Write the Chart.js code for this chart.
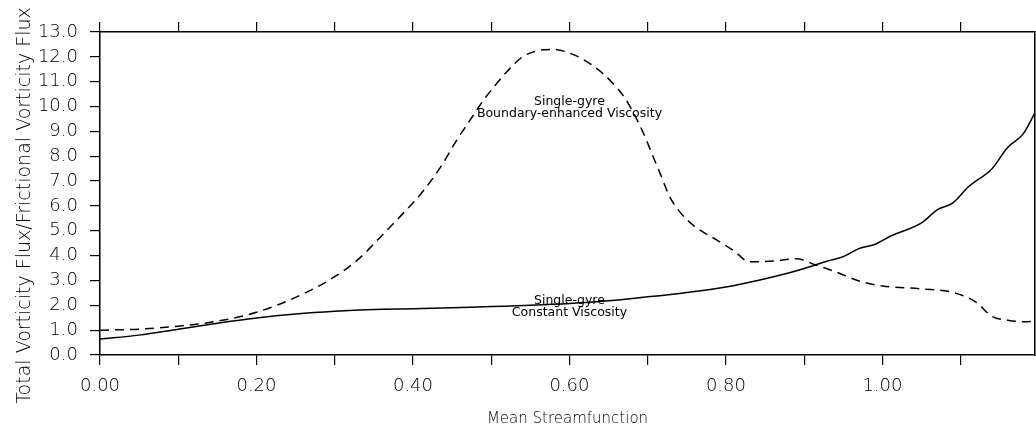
<!DOCTYPE html>
<html>
<head>
<meta charset="utf-8">
<script src="https://cdn.jsdelivr.net/npm/chart.js@4.4.1/dist/chart.umd.min.js"></script>
<style>
    html, body { margin: 0; padding: 0; background: #fff; }
    #fluxChart { display: block; }
</style>
</head>
<body>
<canvas id="fluxChart" width="1036" height="434"></canvas>
<script>
// Single-gyre, constant viscosity (solid)
const constantX = [0, 0.05, 0.10, 0.15, 0.20, 0.25, 0.30, 0.35, 0.40, 0.45, 0.50, 0.55, 0.60, 0.65, 0.70, 0.75, 0.80, 0.85, 0.88, 0.90, 0.93, 0.95, 0.97, 0.99, 1.01, 1.05, 1.07, 1.09, 1.11, 1.14, 1.16, 1.18, 1.195];
const constantY = [0.64, 0.80, 1.04, 1.28, 1.49, 1.65, 1.76, 1.83, 1.86, 1.90, 1.95, 2.00, 2.07, 2.18, 2.34, 2.52, 2.74, 3.07, 3.30, 3.48, 3.78, 3.96, 4.28, 4.45, 4.78, 5.32, 5.84, 6.12, 6.77, 7.50, 8.35, 8.90, 9.75];

// Single-gyre, boundary-enhanced viscosity (dashed)
const enhancedX = [0, 0.05, 0.10, 0.15, 0.20, 0.25, 0.30, 0.33, 0.36, 0.385, 0.41, 0.435, 0.455, 0.475, 0.49, 0.505, 0.52, 0.54, 0.56, 0.58, 0.605, 0.62, 0.64, 0.655, 0.67, 0.68, 0.695, 0.707, 0.716, 0.728, 0.74, 0.758, 0.788, 0.81, 0.83, 0.86, 0.89, 0.915, 0.94, 0.97, 1.00, 1.05, 1.09, 1.12, 1.14, 1.16, 1.18, 1.195];
const enhancedY = [1.00, 1.04, 1.16, 1.36, 1.72, 2.32, 3.15, 3.85, 4.80, 5.62, 6.48, 7.55, 8.60, 9.55, 10.25, 10.85, 11.40, 12.00, 12.25, 12.30, 12.09, 11.85, 11.40, 10.95, 10.38, 9.85, 8.90, 7.98, 7.30, 6.38, 5.80, 5.23, 4.63, 4.20, 3.75, 3.78, 3.87, 3.62, 3.35, 2.98, 2.78, 2.66, 2.52, 2.12, 1.55, 1.40, 1.34, 1.36];

// curve annotations, anchored in data units
const labelX = 0.6;
const enhancedLabel = ['Single-gyre', 'Boundary-enhanced Viscosity'];
const enhancedLabelY = [10.18, 9.70];
const constantLabel = ['Single-gyre', 'Constant Viscosity'];
const constantLabelY = [2.19, 1.70];

const xTitle = 'Mean Streamfunction';
const yTitle = 'Total Vorticity Flux/Frictional Vorticity Flux';

const INK = '#000';
const FONT = '"DejaVu Sans", sans-serif';

function toPoints(xs, ys) {
    return xs.map((x, i) => ({ x: x, y: ys[i] }));
}

const curveLabels = {
    id: 'curveLabels',
    afterDatasetsDraw(chart) {
        const { ctx, scales } = chart;
        const px = scales.x.getPixelForValue(labelX);
        ctx.save();
        ctx.fillStyle = INK;
        ctx.font = '12.5px ' + FONT;
        ctx.textAlign = 'center';
        ctx.textBaseline = 'middle';
        enhancedLabel.forEach((t, i) => ctx.fillText(t, px, scales.y.getPixelForValue(enhancedLabelY[i])));
        constantLabel.forEach((t, i) => ctx.fillText(t, px, scales.y.getPixelForValue(constantLabelY[i])));

        // rotated y title, sits a little below the axis middle
        const area = chart.chartArea;
        ctx.font = '300 19px ' + FONT;
        ctx.translate(scales.y.left + 25, (area.top + area.bottom) / 2 + 12);
        ctx.rotate(-Math.PI / 2);
        ctx.fillText(yTitle, 0, 0);
        ctx.restore();
    }
};

const axisBorder = { color: INK, width: 1.5 };
const tickGrid = { drawOnChartArea: false, drawTicks: true, tickLength: 10, color: INK, lineWidth: 1.2 };

new Chart(document.getElementById('fluxChart'), {
    type: 'line',
    data: {
        datasets: [
            {
                label: 'Constant Viscosity',
                data: toPoints(constantX, constantY),
                borderColor: INK,
                borderWidth: 1.5,
                pointRadius: 0,
                cubicInterpolationMode: 'monotone'
            },
            {
                label: 'Boundary-enhanced Viscosity',
                data: toPoints(enhancedX, enhancedY),
                borderColor: INK,
                borderWidth: 1.5,
                borderDash: [9, 6],
                pointRadius: 0,
                cubicInterpolationMode: 'monotone'
            }
        ]
    },
    options: {
        responsive: false,
        animation: false,
        layout: { padding: 0 },
        plugins: { legend: { display: false }, tooltip: { enabled: false } },
        scales: {
            x: {
                type: 'linear',
                position: 'bottom',
                min: 0,
                max: 1.195,
                border: axisBorder,
                grid: tickGrid,
                ticks: {
                    stepSize: 0.1,
                    includeBounds: false,
                    autoSkip: false,
                    maxRotation: 0,
                    padding: 11,
                    color: INK,
                    font: { family: FONT, size: 18, weight: '300' },
                    callback: v => (Math.round(v * 10) % 2 === 0 ? v.toFixed(2) : '')
                },
                title: {
                    display: true,
                    text: xTitle,
                    color: INK,
                    font: { family: FONT, size: 15, weight: '300' },
                    padding: { top: 0, bottom: 6 }
                },
                afterFit: s => { s.height = 79; }
            },
            x2: {
                type: 'linear',
                position: 'top',
                min: 0,
                max: 1.195,
                border: axisBorder,
                grid: tickGrid,
                ticks: { stepSize: 0.1, includeBounds: false, autoSkip: false, callback: () => '' },
                afterFit: s => { s.height = 32; }
            },
            y: {
                position: 'left',
                min: 0,
                max: 13,
                border: axisBorder,
                grid: tickGrid,
                ticks: {
                    stepSize: 1,
                    padding: 12,
                    color: INK,
                    font: { family: FONT, size: 18, weight: '300' },
                    callback: v => v.toFixed(1)
                },
                afterFit: s => { s.width = 100; }
            },
            y2: {
                position: 'right',
                min: 0,
                max: 13,
                border: axisBorder,
                grid: { display: false, drawTicks: false },
                ticks: { display: false },
                afterFit: s => { s.width = 1; }
            }
        }
    },
    plugins: [curveLabels]
});
</script>
</body>
</html>
